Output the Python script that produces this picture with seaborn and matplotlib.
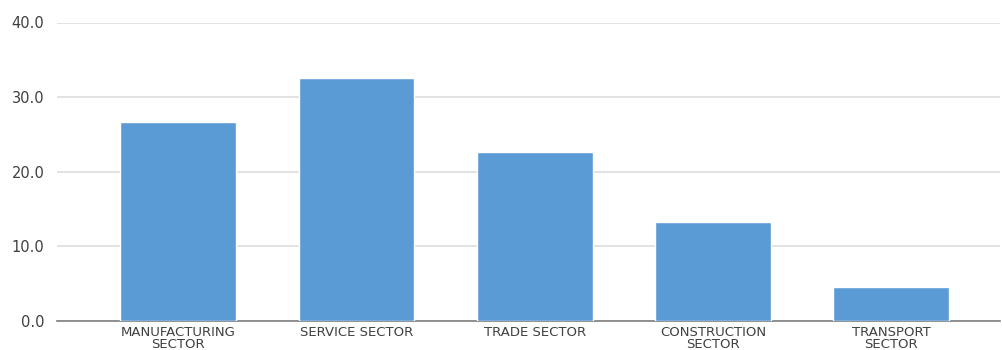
import matplotlib
matplotlib.use("Agg")
import matplotlib.pyplot as plt
import seaborn as sns
import pandas as pd

sectors = ["MANUFACTURING\nSECTOR", "SERVICE SECTOR", "TRADE SECTOR",
           "CONSTRUCTION\nSECTOR", "TRANSPORT\nSECTOR"]
shares = [26.7, 32.5, 22.6, 13.3, 4.5]
y_ticks = [0, 10, 20, 30, 40]

sns.set_theme(style="white")
plt.rcParams["font.family"] = ["DejaVu Sans"]

df = pd.DataFrame({"sector": sectors, "share": shares})

fig = plt.figure(figsize=(10.02, 3.5), dpi=100)
ax = fig.add_axes([57 / 1002, 1 - 321 / 350, 943 / 1002, (321 - 22.5) / 350])

sns.barplot(data=df, x="sector", y="share", color="#5B9BD5", saturation=1,
            width=0.65, ax=ax, zorder=3)

ax.set_ylim(0, 40)
ax.set_xlim(-0.68, 4.61)
ax.set_yticks(y_ticks)
ax.set_yticklabels([f"{v:.1f}" for v in y_ticks], fontsize=10.5, color="#404040",
                   family="DejaVu Sans")
ax.set_xticklabels(sectors, fontsize=9.5, color="#404040", family="DejaVu Sans",
                   linespacing=0.95)
ax.yaxis.grid(True, color="#DDDDDD", linewidth=1.2, zorder=0)
ax.set_axisbelow(True)
ax.set_xlabel("")
ax.set_ylabel("")
ax.tick_params(axis="x", length=0, pad=3.5)
ax.tick_params(axis="y", length=0, pad=9)
for side in ["top", "right", "left"]:
    ax.spines[side].set_visible(False)
ax.spines["bottom"].set_color("#7F7F7F")
ax.spines["bottom"].set_linewidth(1.2)

fig.savefig("out.png", dpi=100, facecolor="white")
